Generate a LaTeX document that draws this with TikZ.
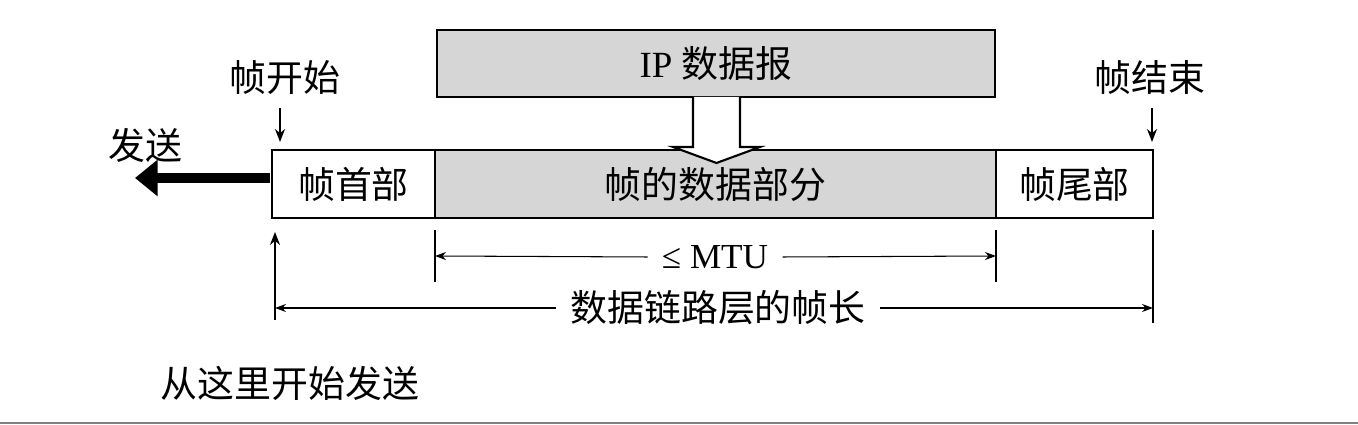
\documentclass[tikz,border=0pt]{standalone}
\usepackage{fontspec}
\setmainfont{Liberation Serif}
\newfontfamily\cjk{Noto Sans CJK SC}
\usepackage{tikz}
\usetikzlibrary{arrows.meta,positioning,calc}

\begin{document}
\begin{tikzpicture}[
    every node/.style={font=\fontsize{21}{24}\selectfont\cjk},
    part/.style={draw=black, line width=0.9pt, minimum height=1.36cm, inner sep=0pt, outer sep=0pt},
    shade/.style={part, fill=black!16},
    arr/.style={-{Stealth[length=2.6mm,width=2mm]}, line width=0.9pt},
    dim/.style={{Stealth[length=2.2mm,width=1.6mm]}-, line width=0.6pt},
    tick/.style={line width=0.8pt}
]
  \useasboundingbox (0,0) rectangle (27.16,8.5);

  % frame
  \node[part,  minimum width=3.26cm]  (hdr)  at (7.07,4.82)  {帧首部};
  \node[shade, minimum width=11.22cm] (data) at (14.31,4.82) {帧的数据部分};
  \node[part,  minimum width=3.14cm]  (trl)  at (21.49,4.82) {帧尾部};

  % IP datagram
  \node[shade, minimum width=11.16cm, minimum height=1.34cm] (ip) at (14.32,7.23)
    {\fontsize{21}{24}\selectfont\rmfamily IP {\cjk 数据报}};

  % hollow arrow into the frame
  \draw[line width=1.2pt, fill=white, line join=miter]
    (13.86,6.56) -- (13.86,5.56) -- (13.46,5.56) -- (14.33,5.24)
    -- (15.2,5.56) -- (14.8,5.56) -- (14.8,6.56);

  % frame start / end
  \node (fs) at (5.7,6.94) {帧开始};
  \node (fe) at (23.0,6.94) {帧结束};
  \coordinate (fsa) at (5.6,6.34);
  \coordinate (fea) at (23.04,6.34);
  \draw[arr] (fsa) -- (fsa |- 0,5.66);
  \draw[arr] (fea) -- (fea |- 0,5.66);

  % sending direction
  \node (send) at (2.9,5.6) {发送};
  \coordinate (sendL) at (2.7,4.94);
  \coordinate (sendR) at (5.4,4.94);
  \draw[line width=5.5pt, -{Triangle[length=4.5mm,width=7mm]}] (sendR) -- (sendL);

  % start point
  \node (from) at (5.8,0.84) {从这里开始发送};
  \coordinate (upB) at (5.5,2.1);
  \coordinate (upT) at (5.5,3.86);
  \draw[arr] (upB) -- (upT);

  % MTU
  \draw[tick] (data.south west) ++(0,-0.24) -- ++(0,-1.04) coordinate[pos=0.5] (mtuL);
  \draw[tick] (data.south east) ++(0,-0.24) -- ++(0,-1.04) coordinate[pos=0.5] (mtuR);
  \node[font=\fontsize{20}{24}\selectfont\rmfamily, inner xsep=8pt] (mtu) at (14.3,3.36) {≤ MTU};
  \draw[dim] (mtuL) -- (mtu.west);
  \draw[dim] (mtuR) -- (mtu.east);

  % frame length
  \draw[tick] (trl.south east) ++(0,-0.24) -- ++(0,-1.86);
  \node[inner xsep=8pt] (len) at (14.36,2.34) {数据链路层的帧长};
  \draw[dim] (upB |- len) -- (len.west);
  \draw[dim] (trl.south east |- len) -- (len.east);

  \draw[black!50, line width=1.6pt] (0,0.04) -- (27.16,0.04);
\end{tikzpicture}
\end{document}
